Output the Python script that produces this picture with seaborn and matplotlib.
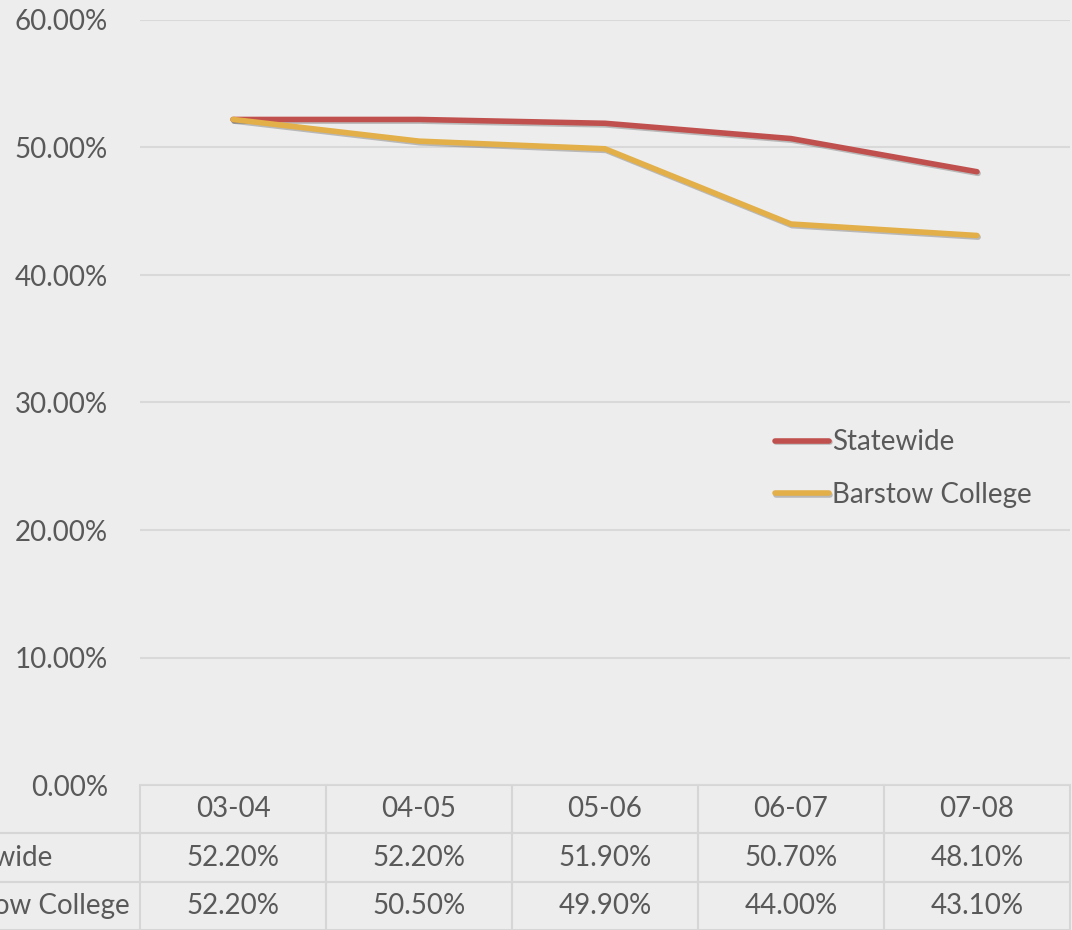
import numpy as np
import pandas as pd
import matplotlib
matplotlib.use('Agg')
import matplotlib.pyplot as plt
import matplotlib.patheffects as pe
from matplotlib.ticker import FuncFormatter
import seaborn as sns

# datos
anios = ['03-04', '04-05', '05-06', '06-07', '07-08']
statewide = [52.2, 52.2, 51.9, 50.7, 48.1]
barstow = [52.2, 50.5, 49.9, 44.0, 43.1]
series = ['Statewide', 'Barstow College']
colores = ['#C0504D', '#E3AF48']

sns.set_theme(style='white')
plt.rcParams['font.family'] = ['Lato', 'DejaVu Sans']
texto = '#595959'

df = pd.DataFrame({
    'anio': anios * 2,
    'valor': statewide + barstow,
    'serie': [series[0]] * len(anios) + [series[1]] * len(anios),
})

fig = plt.figure(figsize=(10.72, 9.3), dpi=100, facecolor='#EDEDED')
ax = fig.add_axes([140 / 1072, 1 - 785 / 930, 930 / 1072, 765 / 930])
ax.set_facecolor('none')

sns.lineplot(data=df, x='anio', y='valor', hue='serie', palette=colores,
             linewidth=4, ax=ax, sort=False, legend=True)

for line in ax.get_lines():
    line.set_solid_capstyle('round')
    line.set_path_effects([pe.SimpleLineShadow(offset=(0.8, -1.2), shadow_color='k', alpha=0.25),
                           pe.Normal()])

ax.set_xlim(-0.5, len(anios) - 0.5)
ax.set_ylim(0, 60)
ax.set_yticks(np.arange(0, 61, 10))
ax.yaxis.set_major_formatter(FuncFormatter(lambda v, p: f'{v:.2f}%'))
ax.tick_params(axis='y', length=0, pad=23, labelsize=20, labelcolor=texto)
ax.set_xticks([])
ax.set_xlabel('')
ax.set_ylabel('')
ax.grid(axis='y', color='#D9D9D9', linewidth=1.5)
ax.grid(axis='x', visible=False)
for s in ax.spines.values():
    s.set_visible(False)

# leyenda
ley = ax.legend(loc='upper left', bbox_to_anchor=(0.683, 0.465), frameon=False,
                fontsize=20, handlelength=1.95, handletextpad=0.1,
                labelspacing=0.95, borderpad=0, borderaxespad=0)
for t in ley.get_texts():
    t.set_color(texto)
for h in ley.legend_handles:
    h.set_linewidth(4)
    h.set_solid_capstyle('round')

# tabla de datos (primera columna = nombres de las series)
celdas = [[series[0]] + [f'{v:.2f}%' for v in statewide],
          [series[1]] + [f'{v:.2f}%' for v in barstow]]
ancho_fila = 0.2377
tabla = ax.table(cellText=celdas, colLabels=[''] + anios,
                 cellLoc='center', colLoc='center',
                 colWidths=[ancho_fila] + [0.2] * len(anios),
                 bbox=[-ancho_fila, -145 / 765, 1 + ancho_fila, 145 / 765])
tabla.auto_set_font_size(False)
tabla.set_fontsize(20)
for (r, c), cell in tabla.get_celld().items():
    cell.set_facecolor('none')
    cell.set_edgecolor('#D6D6D6')
    cell.set_linewidth(1.5)
    cell.get_text().set_color(texto)
    if c == 0:
        cell.PAD = 0.05
        cell.get_text().set_horizontalalignment('left')
        cell.visible_edges = 'B' if r == 0 else 'BT'

fig.savefig('out.png', dpi=100, facecolor=fig.get_facecolor())
